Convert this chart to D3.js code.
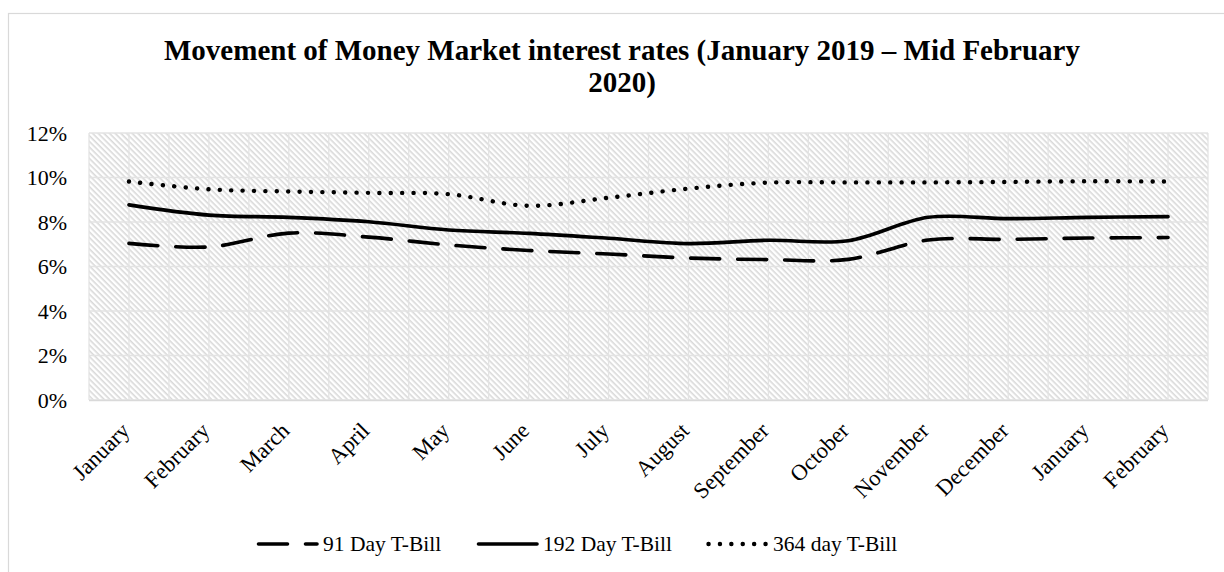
<!DOCTYPE html>
<html>
<head>
<meta charset="utf-8">
<script src="https://cdn.jsdelivr.net/npm/d3@7"></script>
<style>
  html, body { margin: 0; padding: 0; background: #ffffff; }
  svg { display: block; }
  text { font-family: "Liberation Serif", "Times New Roman", serif; fill: #000; }
</style>
</head>
<body>
<svg id="chart" width="1224" height="572"></svg>
<script>
// ---- data ----
const categories = ["January", "February", "March", "April", "May", "June", "July",
  "August", "September", "October", "November", "December", "January", "February"];
const bill91  = [7.04, 6.88, 7.50, 7.32, 6.97, 6.72, 6.56, 6.38, 6.31, 6.32, 7.19, 7.22, 7.28, 7.30];
const bill192 = [8.77, 8.31, 8.21, 8.01, 7.64, 7.49, 7.27, 7.03, 7.18, 7.16, 8.21, 8.15, 8.21, 8.24];
const bill364 = [9.82, 9.47, 9.37, 9.31, 9.25, 8.73, 9.09, 9.50, 9.77, 9.78, 9.78, 9.80, 9.83, 9.82];
const seriesNames = ["91 Day T-Bill", "192 Day T-Bill", "364 day T-Bill"];
const yTicks = [0, 2, 4, 6, 8, 10, 12];
const titleLines = ["Movement of Money Market interest rates (January 2019 \u2013 Mid February", "2020)"];

// ---- layout ----
const W = 1224, H = 572;
const plot = { left: 89, right: 1208, top: 133, bottom: 400 };
const svg = d3.select("#chart");

// hatch pattern (downward diagonal)
const defs = svg.append("defs");
const pat = defs.append("pattern")
  .attr("id", "hatch").attr("patternUnits", "userSpaceOnUse")
  .attr("width", 4).attr("height", 4)
  .attr("patternTransform", "rotate(45)");
pat.append("rect").attr("width", 4).attr("height", 4).attr("fill", "#ffffff");
pat.append("rect").attr("x", 0).attr("y", 0).attr("width", 4).attr("height", 1.6).attr("fill", "#d9d9d9");

// chart area border
svg.append("rect").attr("x", 8.5).attr("y", 13.5).attr("width", 1260).attr("height", 620)
  .attr("fill", "#fff").attr("stroke", "#d9d9d9").attr("stroke-width", 1.2);

// scales
const xBand = d3.scaleBand().domain(d3.range(categories.length)).range([plot.left, plot.right]).paddingInner(0).paddingOuter(0);
const x = d3.scalePoint().domain(d3.range(categories.length)).range([plot.left, plot.right]).padding(0.5);
const y = d3.scaleLinear().domain([0, 12]).range([plot.bottom, plot.top]);

// plot background
svg.append("rect").attr("x", plot.left).attr("y", plot.top)
  .attr("width", plot.right - plot.left).attr("height", plot.bottom - plot.top)
  .attr("fill", "url(#hatch)");

// gridlines
const grid = svg.append("g").attr("stroke", "#e3e3e3").attr("stroke-width", 1.3);
const vx = [];
categories.forEach((c, i) => { vx.push(xBand(i)); vx.push(x(i)); });
vx.push(plot.right);
grid.selectAll("line.v").data(vx).join("line").attr("class", "v")
  .attr("x1", d => d).attr("x2", d => d).attr("y1", plot.top).attr("y2", plot.bottom);
grid.selectAll("line.h").data(yTicks).join("line").attr("class", "h")
  .attr("x1", plot.left).attr("x2", plot.right).attr("y1", d => y(d)).attr("y2", d => y(d));
// axis line
svg.append("line").attr("x1", plot.left).attr("x2", plot.right)
  .attr("y1", plot.bottom + 0.5).attr("y2", plot.bottom + 0.5)
  .attr("stroke", "#d9d9d9").attr("stroke-width", 1.5);

// y axis labels
const yAxis = d3.axisLeft(y).tickValues(yTicks).tickFormat(d => d + "%").tickSize(0).tickPadding(22);
const gy = svg.append("g").attr("transform", `translate(${plot.left},0)`).call(yAxis);
gy.select(".domain").remove();
gy.selectAll("text").attr("font-size", 22).attr("font-family", "Liberation Serif").attr("fill", "#000");

// x axis labels
const gx = svg.append("g");
gx.selectAll("text").data(categories).join("text")
  .attr("transform", (d, i) => `translate(${x(i) + 2},${432}) rotate(-45)`)
  .attr("text-anchor", "end").attr("font-size", 22.5).text(d => d);

// lines
const line = d3.line().x((d, i) => x(i)).y(d => y(d)).curve(d3.curveCatmullRom.alpha(0.5));
const styles = [
  { dash: "29,18", width: 3.6 },
  { dash: null, width: 3.6 },
  { dash: "0.1,11.3", width: 4.4 }
];
[bill91, bill192, bill364].forEach((s, k) => {
  svg.append("path").datum(s).attr("d", line)
    .attr("fill", "none").attr("stroke", "#000").attr("stroke-width", styles[k].width)
    .attr("stroke-linecap", "round").attr("stroke-linejoin", "round")
    .attr("stroke-dasharray", styles[k].dash);
});

// title
svg.append("g").selectAll("text").data(titleLines).join("text")
  .attr("x", 622).attr("y", (d, i) => 60 + i * 32)
  .attr("text-anchor", "middle").attr("font-size", 29).attr("font-weight", "bold").text(d => d);

// legend
const legendX = [257, 477, 707];
const lg = svg.append("g");
seriesNames.forEach((n, k) => {
  lg.append("line").attr("x1", legendX[k] + 1.5).attr("x2", legendX[k] + 60)
    .attr("y1", 544).attr("y2", 544)
    .attr("stroke", "#000").attr("stroke-width", styles[k].width)
    .attr("stroke-linecap", "round").attr("stroke-dasharray", styles[k].dash);
  lg.append("text").attr("x", legendX[k] + 66).attr("y", 551)
    .attr("font-size", 21.5).text(n);
});
</script>
</body>
</html>
